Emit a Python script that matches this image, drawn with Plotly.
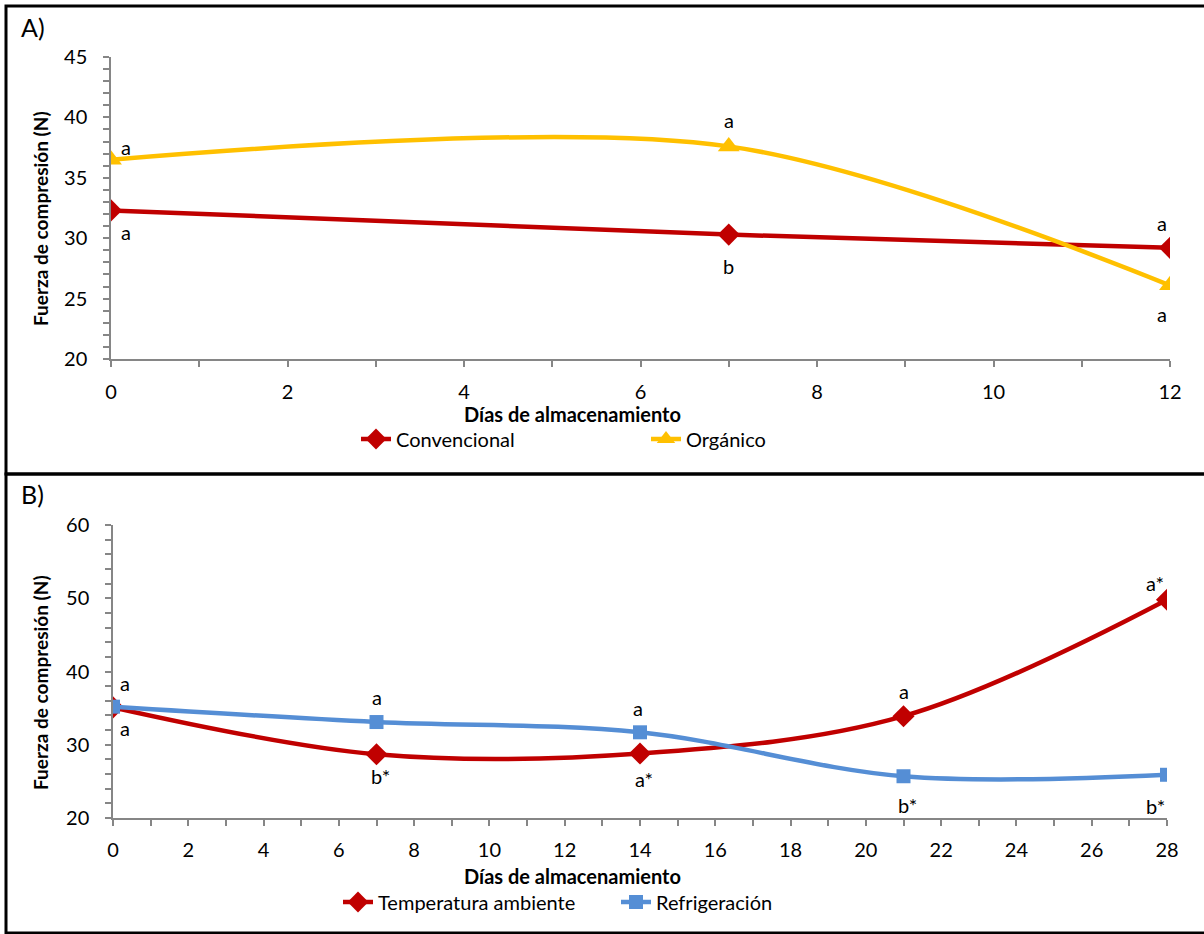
import plotly.graph_objects as go

W, H = 1204, 934

# ---- Data panel A ----
days_a = [0, 7, 12]
convencional = [32.3, 30.3, 29.2]
organico = [36.5, 37.6, 26.1]
labels_conv = ["a", "b", "a"]
labels_org = ["a", "a", "a"]

# ---- Data panel B ----
days_b = [0, 7, 14, 21, 28]
temp_ambiente = [35.1, 28.7, 28.8, 33.9, 49.8]
refrigeracion = [35.2, 33.1, 31.7, 25.7, 25.9]
labels_temp = ["a", "b*", "a*", "a", "a*"]
labels_ref = ["a", "a", "a", "b*", "b*"]

RED = "#C00000"
YEL = "#FFC000"
BLUE = "#558ED5"
AX = "#868686"
FONT = "Lato"

def px(x):
    return x / W

def py(y):
    return 1 - y / H

fig = go.Figure()
fig.add_trace(go.Scatter(x=days_a, y=convencional, name="Convencional", mode="lines+markers",
                         line=dict(color=RED, width=4.5, shape="spline", smoothing=1),
                         marker=dict(symbol="diamond", size=17, color=RED),
                         xaxis="x", yaxis="y", legend="legend"))
fig.add_trace(go.Scatter(x=days_a, y=organico, name="Orgánico", mode="lines+markers",
                         line=dict(color=YEL, width=4.5, shape="spline", smoothing=0.9),
                         marker=dict(symbol="triangle-up", size=19, color=YEL),
                         xaxis="x", yaxis="y", legend="legend"))
fig.add_trace(go.Scatter(x=days_b, y=temp_ambiente, name="Temperatura ambiente", mode="lines+markers",
                         line=dict(color=RED, width=4.5, shape="spline", smoothing=1),
                         marker=dict(symbol="diamond", size=17, color=RED),
                         xaxis="x2", yaxis="y2", legend="legend2"))
fig.add_trace(go.Scatter(x=days_b, y=refrigeracion, name="Refrigeración", mode="lines+markers",
                         line=dict(color=BLUE, width=4.5, shape="spline", smoothing=1),
                         marker=dict(symbol="square", size=14, color=BLUE),
                         xaxis="x2", yaxis="y2", legend="legend2"))

ax_common = dict(showline=True, linecolor=AX, linewidth=1.5, ticks="outside", ticklen=6,
                 tickcolor=AX, tickwidth=1.5, showgrid=False, zeroline=False, automargin=False,
                 tickfont=dict(family=FONT, size=20, color="black"))
minor_common = dict(ticks="outside", ticklen=6, tickcolor=AX, tickwidth=1.5)

fig.update_layout(
    width=W, height=H, autosize=False,
    margin=dict(l=0, r=0, t=0, b=0, autoexpand=False),
    paper_bgcolor="white", plot_bgcolor="white",
    font=dict(family=FONT, color="black"),
    xaxis=dict(domain=[px(111), px(1170)], range=[0, 12], dtick=2, tick0=0,
               minor=dict(dtick=1, **minor_common),
               anchor="y", ticklabelstandoff=8, **ax_common),
    yaxis=dict(domain=[py(359), py(57)], range=[20, 45], dtick=5, tick0=0,
               minor=dict(dtick=1, **minor_common),
               anchor="x", ticklabelstandoff=12, **ax_common),
    xaxis2=dict(domain=[px(113), px(1167)], range=[0, 28], dtick=2, tick0=0,
                minor=dict(dtick=1, **minor_common),
                anchor="y2", ticklabelstandoff=7, **ax_common),
    yaxis2=dict(domain=[py(818), py(525)], range=[20, 60], dtick=10, tick0=0,
                minor=dict(dtick=2, **minor_common),
                anchor="x2", ticklabelstandoff=12, **ax_common),
    legend=dict(orientation="h", x=px(356), y=py(439), xanchor="left", yanchor="middle",
                font=dict(family=FONT, size=20, color="black"), entrywidth=245,
                bgcolor="rgba(0,0,0,0)"),
    legend2=dict(orientation="h", x=px(338), y=py(902), xanchor="left", yanchor="middle",
                 font=dict(family=FONT, size=20, color="black"), entrywidth=233,
                 bgcolor="rgba(0,0,0,0)"),
    showlegend=True,
)

# panel borders
fig.add_shape(type="rect", xref="paper", yref="paper", x0=px(6), x1=px(1210), y0=py(474), y1=py(6),
              line=dict(color="black", width=3), layer="above")
fig.add_shape(type="rect", xref="paper", yref="paper", x0=px(6), x1=px(1210), y0=py(933), y1=py(474),
              line=dict(color="black", width=3), layer="above")

ann = []
def pann(text, x, y, size, angle=0, xa="center"):
    ann.append(dict(text=text, x=px(x), y=py(y), xref="paper", yref="paper",
                    xanchor=xa, yanchor="middle", textangle=angle, showarrow=False,
                    font=dict(family=FONT, size=size, color="black")))

# panel labels
pann("A)", 19, 27, 25, xa="left")
pann("B)", 19, 494, 25, xa="left")
# axis titles
pann("<b>Días de almacenamiento</b>", 572, 414, 20)
pann("<b>Días de almacenamiento</b>", 572, 876, 20)
pann("<b>Fuerza de compresión (N)</b>", 40, 219, 19, angle=-90)
pann("<b>Fuerza de compresión (N)</b>", 40, 683, 19, angle=-90)

# letter labels
def lab(x, y, t, dx, dy, xr, yr):
    ann.append(dict(text=t, x=x, y=y, xref=xr, yref=yr, xshift=dx, yshift=dy, showarrow=False,
                    xanchor="center", yanchor="middle", font=dict(family=FONT, size=20, color="black")))

shiftsA_org = [(15, 13), (0, 26), (-8, -29)]
shiftsA_conv = [(15, -22), (0, -31), (-8, 25)]
for i, d in enumerate(days_a):
    lab(d, organico[i], labels_org[i], *shiftsA_org[i], "x", "y")
    lab(d, convencional[i], labels_conv[i], *shiftsA_conv[i], "x", "y")

shiftsB_ref = [(12, 24), (0, 25), (-2, 24), (4, -29), (-12, -31)]
shiftsB_temp = [(12, -21), (4, -22), (4, -25), (0, 25), (-12, 17)]
for i, d in enumerate(days_b):
    lab(d, refrigeracion[i], labels_ref[i], *shiftsB_ref[i], "x2", "y2")
    lab(d, temp_ambiente[i], labels_temp[i], *shiftsB_temp[i], "x2", "y2")

fig.update_layout(annotations=ann)
fig.write_html("out.html", post_script="document.body.style.margin='0';document.body.style.overflow='hidden';")
